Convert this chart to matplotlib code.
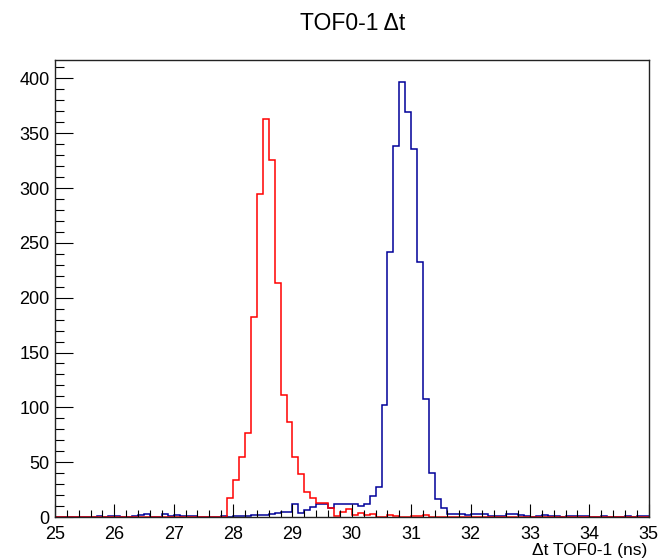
import numpy as np
import matplotlib
matplotlib.use("Agg")
import matplotlib.pyplot as plt
from matplotlib.ticker import MultipleLocator

plt.rcParams['font.family'] = ['Liberation Sans', 'DejaVu Sans']

# Histogram binning: 100 bins of 0.1 ns from 25 to 35
bin_edges = np.round(np.linspace(25.0, 35.0, 101), 2)

# Red histogram counts (bin starting 25.0 ... 34.9)
red_counts = [
    0, 0, 0, 0, 0, 0, 0, 0, 0, 0,          # 25.0-25.9
    0, 0, 0, 0, 0, 0, 0, 0, 0, 0,          # 26.0-26.9
    0, 0, 0, 0, 0, 0, 0, 0, 0, 17,         # 27.0-27.9
    34, 55, 77, 182, 295, 363, 326, 213, 111, 87,   # 28.0-28.9
    55, 39, 23, 17, 13, 13, 8, 1, 5, 7,    # 29.0-29.9
    2, 4, 2, 3, 0, 0, 2, 1, 0, 0,          # 30.0-30.9
    1, 1, 2, 0, 0, 0, 0, 0, 0, 0,          # 31.0-31.9
    0, 0, 0, 0, 0, 0, 0, 0, 0, 0,          # 32.0-32.9
    0, 0, 0, 0, 0, 0, 0, 0, 0, 0,          # 33.0-33.9
    0, 0, 0, 0, 0, 0, 0, 0, 0, 0,          # 34.0-34.9
]

# Blue histogram counts (bin starting 25.0 ... 34.9)
blue_counts = [
    0, 0, 0, 0, 0, 0, 0, 1, 0, 1,          # 25.0-25.9
    1, 0, 0, 1, 2, 3, 0, 0, 3, 1,          # 26.0-26.9
    2, 1, 1, 1, 0, 0, 0, 0, 1, 0,          # 27.0-27.9
    1, 1, 1, 2, 2, 2, 3, 4, 5, 5,          # 28.0-28.9
    12, 4, 6, 9, 12, 12, 8, 12, 12, 12,    # 29.0-29.9
    12, 10, 12, 19, 27, 102, 242, 338, 397, 369,    # 30.0-30.9
    336, 233, 108, 40, 16, 8, 3, 3, 3, 2,  # 31.0-31.9
    3, 3, 3, 1, 1, 1, 3, 3, 2, 1,          # 32.0-32.9
    0, 1, 2, 1, 1, 0, 1, 1, 1, 1,          # 33.0-33.9
    0, 0, 1, 0, 0, 0, 1, 0, 1, 1,          # 34.0-34.9
]

title_text = "TOF0-1 \u0394t"
xlabel_text = "\u0394t TOF0-1 (ns)"

W, H = 658, 560
fig = plt.figure(figsize=(W / 100, H / 100), dpi=100)
left, right, bottom, top = 55, 648.7, 517, 60
ax = fig.add_axes([left / W, 1 - bottom / H, (right - left) / W, (bottom - top) / H])

ax.stairs(blue_counts, bin_edges, color='#000099', linewidth=1.1)
ax.stairs(red_counts, bin_edges, color='#ff0000', linewidth=1.1)

ax.set_xlim(25, 35)
ax.set_ylim(0, 416.8)

ax.xaxis.set_major_locator(MultipleLocator(1))
ax.xaxis.set_minor_locator(MultipleLocator(0.2))
ax.yaxis.set_major_locator(MultipleLocator(50))
ax.yaxis.set_minor_locator(MultipleLocator(10))

ax.tick_params(axis='x', which='major', direction='in', length=9.1, width=0.8,
               labelsize=13, pad=6.5, colors='black')
ax.tick_params(axis='x', which='minor', direction='in', length=5, width=0.8)
ax.tick_params(axis='y', which='major', direction='in', length=13, width=0.8,
               labelsize=13, pad=4)
ax.tick_params(axis='y', which='minor', direction='in', length=6.5, width=0.8)

for s in ax.spines.values():
    s.set_linewidth(1.0)
    s.set_color('#222222')

fig.text(353 / W, 1 - 23 / H, title_text, ha='center', va='center', fontsize=16.5)
fig.text(647 / W, 1 - 550 / H, xlabel_text, ha='right', va='center', fontsize=12.5)

fig.savefig("out.png", dpi=100)
